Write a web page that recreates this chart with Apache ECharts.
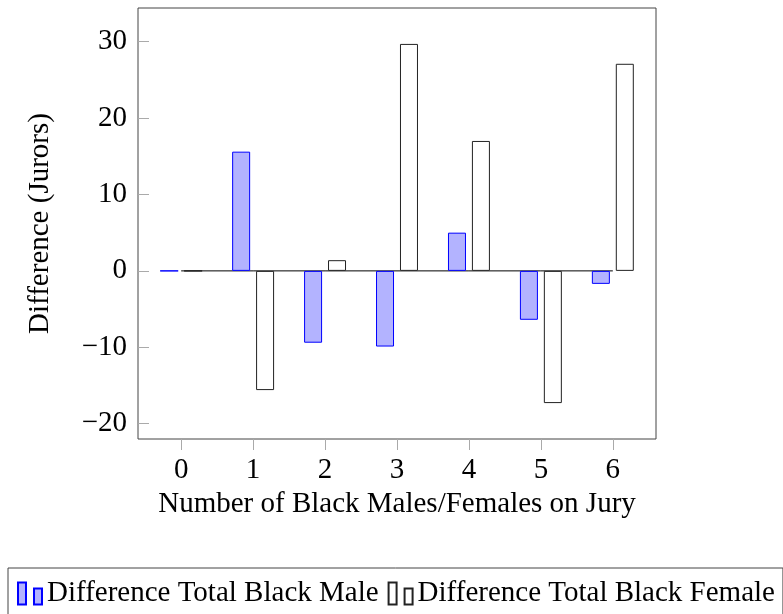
<!DOCTYPE html>
<html>
<head>
<meta charset="utf-8">
<script src="https://cdn.jsdelivr.net/npm/echarts@6/dist/echarts.min.js"></script>
<style>
  html, body { margin: 0; padding: 0; background: #fff; }
  #chart { width: 783px; height: 614px; }
</style>
</head>
<body>
<div id="chart"></div>
<script>
const categories = [0, 1, 2, 3, 4, 5, 6];
const maleDiff = [0, 15.6, -9.4, -9.9, 5.0, -6.4, -1.7];
const femaleDiff = [0, -15.6, 1.4, 29.7, 17.0, -17.3, 27.1];
const zeroLine = [0, 0, 0, 0, 0, 0, 0];
const yTicks = [-20, -10, 0, 10, 20, 30];

const FONT = "'Liberation Serif', 'Times New Roman', serif";
const FS = 29;
const BAR_ICON = 'path://M0,0H8V22H0Z M16,6H24V22H16Z';
const myChart = echarts.init(document.getElementById('chart'));

const pairs = (vals) => categories.map((c, i) => [c, vals[i]]);

const options = {
  animation: false,
  textStyle: { fontFamily: FONT, color: '#000' },
  grid: {
    left: 138,
    top: 8,
    right: 127,
    bottom: 175,
    show: true,
    borderColor: '#444',
    borderWidth: 1,
    backgroundColor: 'transparent'
  },
  legend: {
    data: [
      { name: 'Difference Total Black Male', icon: BAR_ICON },
      { name: 'Difference Total Black Female', icon: BAR_ICON }
    ],
    left: 8,
    top: 568,
    padding: [11, 8, 8, 9],
    itemGap: 9,
    itemWidth: 24,
    itemHeight: 22,
    symbolKeepAspect: false,
    borderColor: '#444',
    borderWidth: 1,
    textStyle: { fontFamily: FONT, fontSize: FS, color: '#000' }
  },
  xAxis: {
    type: 'value',
    min: -0.6,
    max: 6.6,
    name: 'Number of Black Males/Females on Jury',
    nameLocation: 'middle',
    nameGap: 45,
    nameTextStyle: { fontFamily: FONT, fontSize: FS, color: '#000' },
    axisLine: { show: false, onZero: false },
    splitLine: { show: false },
    axisTick: {
      show: true,
      inside: false,
      length: 11,
      customValues: categories,
      lineStyle: { color: '#aaa' }
    },
    axisLabel: {
      customValues: categories,
      margin: 17,
      fontFamily: FONT,
      fontSize: FS,
      color: '#000'
    }
  },
  yAxis: {
    type: 'value',
    min: -22,
    max: 34.4,
    name: 'Difference (Jurors)',
    nameLocation: 'middle',
    nameGap: 83,
    nameTextStyle: { fontFamily: FONT, fontSize: FS, color: '#000' },
    axisLine: { show: false, onZero: false },
    splitLine: { show: false },
    axisTick: {
      show: true,
      inside: true,
      length: 11,
      customValues: yTicks,
      lineStyle: { color: '#aaa' }
    },
    axisLabel: {
      customValues: yTicks,
      margin: 11,
      fontFamily: FONT,
      fontSize: FS,
      color: '#000',
      formatter: (v) => (v < 0 ? '\u2212' + Math.abs(v) : String(v))
    }
  },
  series: [
    {
      name: 'zero',
      type: 'line',
      data: pairs(zeroLine),
      showSymbol: false,
      silent: true,
      z: 1,
      lineStyle: { color: '#000', width: 1 }
    },
    {
      name: 'Difference Total Black Male',
      type: 'bar',
      data: pairs(maleDiff),
      barWidth: 18,
      barGap: '33%',
      z: 2,
      itemStyle: { color: '#b3b3ff', borderColor: '#0000ff', borderWidth: 1 }
    },
    {
      name: 'Difference Total Black Female',
      type: 'bar',
      data: pairs(femaleDiff),
      barWidth: 18,
      barGap: '33%',
      z: 2,
      itemStyle: { color: '#ffffff', borderColor: '#222', borderWidth: 1 }
    }
  ]
};

options && myChart.setOption(options);
</script>
</body>
</html>
